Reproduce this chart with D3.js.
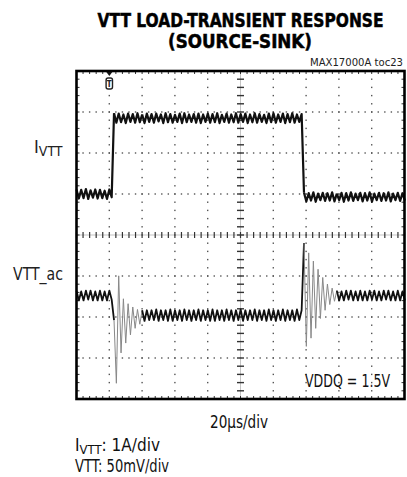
<!DOCTYPE html>
<html><head><meta charset="utf-8">
<script src="https://cdn.jsdelivr.net/npm/d3@7"></script>
<style>html,body{margin:0;padding:0;background:#fff;} svg{display:block}</style>
</head><body>
<script>
// ---------- data ----------
const titleLines = ["VTT LOAD-TRANSIENT RESPONSE", "(SOURCE-SINK)"];
const figureId = "MAX17000A toc23";
const timePerDivUs = 20;
const xDivisions = 10;
const yDivisions = 8;
const minorPerDiv = 5;
const sampleStepUs = 1.43;
const triggerUs = 20;

// channel 1: IVTT (A), 1 A/div, zero placed at +1.93 div
const ivttAPerDiv = 1;
const ivttZeroDiv = 1.93;
const ivttA = [
 -0.82,-1.04,-0.83,-1.03,-0.81,-1.05,-0.84,-1.02,-0.82,-1.04,-0.83,-1.03,-0.85,-1.05,-0.82,-1.01,
 1.04,0.81,1.03,0.82,1.01,0.80,1.03,0.83,1.02,0.81,
 1.04,0.82,1.01,0.80,1.03,0.83,1.02,0.81,1.03,0.84,
 1.01,0.80,1.04,0.82,1.02,0.81,1.00,0.83,1.03,0.80,
 1.04,0.82,1.01,0.83,1.02,0.81,1.03,0.80,1.01,0.83,
 1.03,0.81,1.02,0.82,1.04,0.80,1.00,0.83,1.03,0.81,
 1.01,0.82,1.04,0.81,1.02,0.83,1.03,0.80,1.01,0.82,
 1.04,0.81,1.02,0.83,1.00,0.80,1.03,0.82,1.04,0.81,
 1.01,0.83,1.03,0.80,1.02,0.82,1.04,0.81,1.01,0.83,
 1.02,
 -0.90,-1.11,-0.91,-1.09,-0.89,-1.12,-0.92,-1.08,-0.90,-1.10,
 -0.91,-1.09,-0.89,-1.11,-0.92,-1.08,-0.90,-1.12,-0.91,-1.09,
 -0.89,-1.10,-0.92,-1.08,-0.90,-1.11,-0.91,-1.09,-0.89,-1.12,
 -0.92,-1.08,-0.90,-1.10,-0.91,-1.09,-0.89,-1.11,-0.92,-1.08,
 -0.90,-1.10,-0.91,-1.09
];

// channel 2: VTT ac (mV), 50 mV/div, zero placed at -1.476 div
const vttMvPerDiv = 50;
const vttZeroDiv = -1.476;
const vttMv = [
 6,-6,5,-6,6,-5,6,-6,5,-6,6,-6,5,-6,6,-5,
 -30,-107,24,-70,-4,-58,-10,-48,-14,-40,-17,-35,-18,-31,
 -18,-30,-18,-30,-17,-31,-18,-30,-18,-31,
 -17,-31,-18,-30,-18,-31,-17,-30,-18,-31,
 -18,-30,-17,-31,-18,-30,-18,-31,-17,-31,
 -18,-30,-18,-31,-17,-30,-18,-31,-18,-30,
 -17,-31,-18,-30,-18,-30,-17,-31,-18,-30,
 -18,-31,-17,-30,-18,-31,-18,-30,-17,-31,
 -18,-30,-18,-31,-17,-30,-18,
 64,-62,52,-52,42,-40,32,-28,22,-18,14,-11,9,-7,
 6,-6,5,-6,6,-5,6,-6,5,-6,
 6,-6,5,-6,6,-5,6,-6,5,-6,
 6,-5,6,-6,5,-6,6,-6,5,-6
];
const transientWindowsUs = [[21.5, 40], [138, 158]];

const labels = {
  ch1: ["I", "VTT"], ch2: "VTT_ac", cond: "VDDQ = 1.5V", xscale: "20\u00B5s/div",
  note1: ["I", "VTT", ": 1A/div"], note2: "VTT: 50mV/div"
};

// ---------- layout ----------
const W = 407, H = 477;
const box = {x0: 76.5, x1: 404.5, y0: 71, y1: 399};
const FONT = "'Liberation Sans Narrow','DejaVu Sans Condensed','Liberation Sans',Arial,sans-serif";

const svg = d3.select("body").append("svg").attr("width", W).attr("height", H)
  .style("font-family", FONT);

const x = d3.scaleLinear().domain([0, timePerDivUs * xDivisions]).range([box.x0, box.x1]);
const y = d3.scaleLinear().domain([-yDivisions / 2, yDivisions / 2]).range([box.y1, box.y0]);

// ---------- grid ----------
const g = svg.append("g");
const xMajor = d3.range(0, xDivisions + 1).map(i => i * timePerDivUs);
const xMinor = d3.range(0, xDivisions * minorPerDiv + 1).map(i => i * timePerDivUs / minorPerDiv);
const yMajor = d3.range(-yDivisions / 2, yDivisions / 2 + 1);
const yMinor = d3.range(0, yDivisions * minorPerDiv + 1).map(i => -yDivisions / 2 + i / minorPerDiv);
const xc = timePerDivUs * xDivisions / 2;

// dotted grid
xMajor.filter(t => t > 0 && t < x.domain()[1] && t !== xc).forEach(t => {
  g.selectAll(null).data(yMinor.slice(1, -1)).enter().append("rect")
    .attr("x", x(t) - 0.7).attr("y", d => y(d) - 0.7).attr("width", 1.4).attr("height", 1.4)
    .attr("fill", "#555");
});
yMajor.filter(d => d > -yDivisions / 2 && d < yDivisions / 2 && d !== 0).forEach(d => {
  g.selectAll(null).data(xMinor.slice(1, -1)).enter().append("rect")
    .attr("x", t => x(t) - 0.7).attr("y", y(d) - 0.7).attr("width", 1.4).attr("height", 1.4)
    .attr("fill", "#555");
});
// center axes with ticks
g.append("line").attr("x1", box.x0).attr("x2", box.x1).attr("y1", y(0)).attr("y2", y(0))
  .attr("stroke", "#aaa").attr("stroke-width", 0.7);
g.append("line").attr("x1", x(xc)).attr("x2", x(xc)).attr("y1", box.y0).attr("y2", box.y1)
  .attr("stroke", "#aaa").attr("stroke-width", 0.7);
g.selectAll(null).data(xMinor).enter().append("line")
  .attr("x1", t => x(t)).attr("x2", t => x(t)).attr("y1", y(0) - 3).attr("y2", y(0) + 3)
  .attr("stroke", "#333").attr("stroke-width", 1.2);
g.selectAll(null).data(yMinor).enter().append("line")
  .attr("x1", x(xc) - 3.5).attr("x2", x(xc) + 3.5).attr("y1", d => y(d)).attr("y2", d => y(d))
  .attr("stroke", "#333").attr("stroke-width", 1.4);
// frame ticks
g.selectAll(null).data(xMinor).enter().append("line")
  .attr("x1", t => x(t)).attr("x2", t => x(t)).attr("y1", box.y0).attr("y2", box.y0 + 3)
  .attr("stroke", "#333").attr("stroke-width", 1);
g.selectAll(null).data(xMinor).enter().append("line")
  .attr("x1", t => x(t)).attr("x2", t => x(t)).attr("y1", box.y1).attr("y2", box.y1 - 3)
  .attr("stroke", "#333").attr("stroke-width", 1);
g.selectAll(null).data(yMinor).enter().append("line")
  .attr("x1", box.x0).attr("x2", box.x0 + 3).attr("y1", d => y(d)).attr("y2", d => y(d))
  .attr("stroke", "#333").attr("stroke-width", 1);
g.selectAll(null).data(yMinor).enter().append("line")
  .attr("x1", box.x1).attr("x2", box.x1 - 3).attr("y1", d => y(d)).attr("y2", d => y(d))
  .attr("stroke", "#333").attr("stroke-width", 1);

// ---------- traces ----------
const inTransient = t => transientWindowsUs.some(w => t >= w[0] && t <= w[1]);
function drawTrace(values, perDiv, zeroDiv, dark, darkW, grayColor, grayW) {
  const pts = values.map((v, i) => ({t: i * sampleStepUs, d: v / perDiv + zeroDiv}));
  const runs = [];
  let cur = null;
  pts.forEach((p, i) => {
    const gr = inTransient(p.t);
    if (!cur || cur.gray !== gr) {
      if (cur) cur.pts.push(p);
      cur = {gray: gr, pts: cur ? [cur.pts[cur.pts.length - 1], p] : [p]};
      runs.push(cur);
    } else cur.pts.push(p);
  });
  const line = d3.line().x(p => x(p.t)).y(p => y(p.d));
  runs.forEach(r => {
    svg.append("path").attr("d", line(r.pts)).attr("fill", "none")
      .attr("stroke", r.gray && grayColor ? grayColor : dark)
      .attr("stroke-width", r.gray && grayColor ? grayW : darkW)
      .attr("stroke-linejoin", "round");
  });
}
drawTrace(ivttA, ivttAPerDiv, ivttZeroDiv, "#111", 2.2, null, 0);
drawTrace(vttMv, vttMvPerDiv, vttZeroDiv, "#111", 1.8, "#888", 1.0);

// frame
svg.append("rect").attr("x", box.x0).attr("y", box.y0)
  .attr("width", box.x1 - box.x0).attr("height", box.y1 - box.y0)
  .attr("fill", "none").attr("stroke", "#000").attr("stroke-width", 2.6);

// trigger marker
const tx = x(triggerUs);
svg.append("path").attr("d", `M${tx - 3},${box.y0 + 1} L${tx + 3},${box.y0 + 1} L${tx},${box.y0 + 5} Z`).attr("fill", "#111");
svg.append("rect").attr("x", tx - 3.2).attr("y", box.y0 + 7).attr("width", 6.4).attr("height", 11)
  .attr("rx", 2).attr("fill", "#fff").attr("stroke", "#222").attr("stroke-width", 1.4);
svg.append("text").attr("x", tx).attr("y", box.y0 + 15.5).attr("text-anchor", "middle")
  .attr("font-size", 8).attr("font-weight", "bold").attr("fill", "#222").text("T");

// ---------- texts ----------
svg.append("text").attr("x", 240.5).attr("y", 27).attr("text-anchor", "middle")
  .attr("font-size", 20).attr("font-weight", "bold").attr("stroke", "#000").attr("stroke-width", 0.5)
  .attr("textLength", 286).attr("lengthAdjust", "spacingAndGlyphs").text(titleLines[0]);
svg.append("text").attr("x", 240).attr("y", 48).attr("text-anchor", "middle")
  .attr("font-size", 20).attr("font-weight", "bold").attr("stroke", "#000").attr("stroke-width", 0.5)
  .attr("textLength", 144).attr("lengthAdjust", "spacingAndGlyphs").text(titleLines[1]);
svg.append("text").attr("x", 403).attr("y", 66).attr("text-anchor", "end")
  .attr("font-size", 10).attr("fill", "#222")
  .attr("textLength", 93).attr("lengthAdjust", "spacingAndGlyphs").text(figureId);

// channel labels
const l1 = svg.append("text").attr("x", 34).attr("y", 153).attr("font-size", 18).attr("fill", "#222");
l1.append("tspan").text(labels.ch1[0]);
l1.append("tspan").attr("font-size", 14).attr("dy", 3).text(labels.ch1[1]);
svg.append("text").attr("x", 13).attr("y", 280).attr("font-size", 18).attr("fill", "#222")
  .attr("textLength", 50).attr("lengthAdjust", "spacingAndGlyphs").text(labels.ch2);
svg.append("text").attr("x", 305).attr("y", 387).attr("font-size", 17).attr("fill", "#111")
  .attr("textLength", 85).attr("lengthAdjust", "spacingAndGlyphs").text(labels.cond);
svg.append("text").attr("x", 210).attr("y", 428).attr("font-size", 17).attr("fill", "#111")
  .attr("textLength", 58).attr("lengthAdjust", "spacingAndGlyphs").text(labels.xscale);
const n1 = svg.append("text").attr("x", 75).attr("y", 451).attr("font-size", 17).attr("fill", "#111");
n1.append("tspan").text(labels.note1[0]);
n1.append("tspan").attr("font-size", 13).attr("dy", 3).text(labels.note1[1]);
n1.append("tspan").attr("dy", -3).text(labels.note1[2]);
svg.append("text").attr("x", 75).attr("y", 472).attr("font-size", 17).attr("fill", "#111")
  .attr("textLength", 94).attr("lengthAdjust", "spacingAndGlyphs").text(labels.note2);
</script>
</body></html>
